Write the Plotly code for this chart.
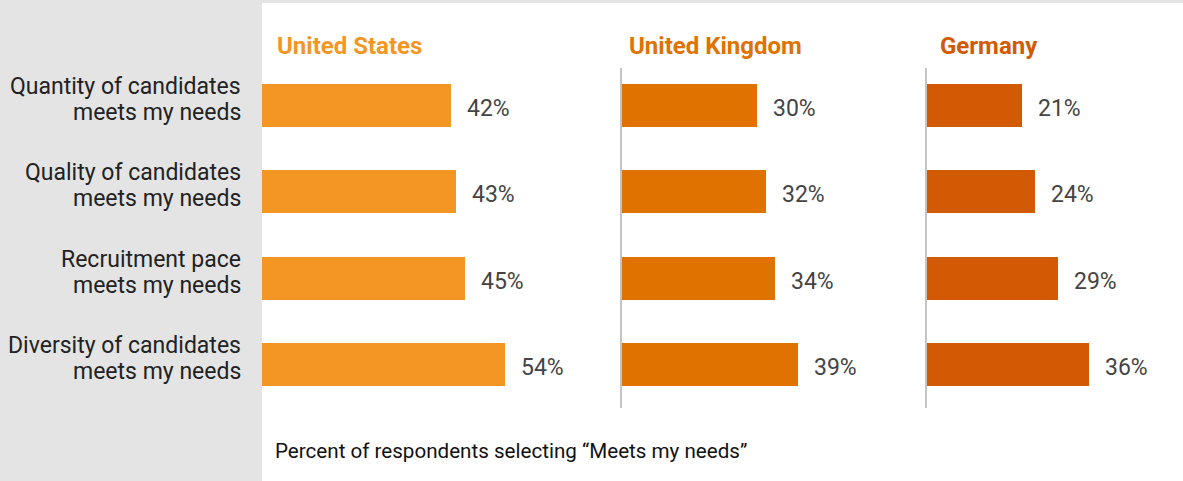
import plotly.graph_objects as go

# data
categories = [
    "Quantity of candidates<br>meets my needs",
    "Quality of candidates<br>meets my needs",
    "Recruitment pace<br>meets my needs",
    "Diversity of candidates<br>meets my needs",
]
countries = ["United States", "United Kingdom", "Germany"]
us_values = [42, 43, 45, 54]
uk_values = [30, 32, 34, 39]
de_values = [21, 24, 29, 36]
colors = ["#F39624", "#E07200", "#D35A05"]
footnote = "Percent of respondents selecting “Meets my needs”"

W, H = 1183, 481
FONT = "Roboto"

series = [us_values, uk_values, de_values]
# panel pixel positions: left edge and x range (4.5 px per percent)
panels = [(262, 75), (622, 65), (927, 55)]
title_shift = [13, 5, 11]

fig = go.Figure()
for i, (vals, col) in enumerate(zip(series, colors)):
    sfx = "" if i == 0 else str(i + 1)
    fig.add_trace(
        go.Bar(
            x=vals,
            y=categories,
            orientation="h",
            marker=dict(color=col, line=dict(width=0)),
            width=0.5,
            xaxis="x" + sfx,
            yaxis="y" + sfx,
            showlegend=False,
            hoverinfo="skip",
        )
    )
    for v, c in zip(vals, categories):
        fig.add_annotation(
            x=v, y=c, xref="x" + sfx, yref="y" + sfx,
            text=f"{v}%", showarrow=False,
            xanchor="left", xshift=14, yshift=-3,
            font=dict(family=FONT, size=23, color="#444444"),
        )
    fig.add_annotation(
        x=0, y=1 - 46 / H, xref="x" + sfx + " domain", yref="paper",
        text=f"<b>{countries[i]}</b>", showarrow=False,
        xanchor="left", yanchor="middle", xshift=title_shift[i],
        font=dict(family=FONT, size=24, color=col),
    )

# category labels, one annotation per line (tighter line spacing than <br>)
for c in categories:
    lines = c.split("<br>")
    for k, line in enumerate(lines):
        fig.add_annotation(
            x=0, y=c, xref="x domain", yref="y",
            text=line, showarrow=False,
            xanchor="right", yanchor="middle", xshift=-19,
            yshift=13 - 26 * k + 6,
            font=dict(family=FONT, size=23, color="#222222"),
        )

ydom = [1 - 408 / H, 1 - 68 / H]
for i, (left, rng) in enumerate(panels):
    sfx = "" if i == 0 else str(i + 1)
    xa = dict(
        domain=[left / W, (left + rng * 4.5) / W],
        range=[0, rng],
        visible=False,
        anchor="y" + sfx,
    )
    ya = dict(
        domain=ydom,
        range=[3.5, -0.43],
        anchor="x" + sfx,
        showgrid=False,
        zeroline=False,
        showline=i > 0,
        linecolor="#C4C4C4",
        linewidth=2,
        showticklabels=False,
    )
    fig.update_layout(**{"xaxis" + sfx: xa, "yaxis" + sfx: ya})

fig.add_annotation(
    x=273 / W, y=1 - 451 / H, xref="paper", yref="paper",
    text=footnote, showarrow=False, xanchor="left", yanchor="middle",
    font=dict(family=FONT, size=20.6, color="#111111"),
)

# gray side panel and top strip
fig.add_shape(type="rect", xref="paper", yref="paper", x0=0, x1=262 / W, y0=0, y1=1,
              fillcolor="#E4E4E4", line_width=0, layer="below")
fig.add_shape(type="rect", xref="paper", yref="paper", x0=262 / W, x1=1, y0=1 - 3 / H, y1=1,
              fillcolor="#E4E4E4", line_width=0, layer="below")

fig.update_layout(
    width=W,
    height=H,
    margin=dict(l=0, r=0, t=0, b=0),
    paper_bgcolor="white",
    plot_bgcolor="rgba(0,0,0,0)",
    bargap=0,
    font=dict(family=FONT),
)

# drop the browser's default body margin so the figure sits at (0, 0)
fig.write_html(
    "out.html",
    config={"displayModeBar": False},
    post_script="document.body.style.margin='0';",
)
